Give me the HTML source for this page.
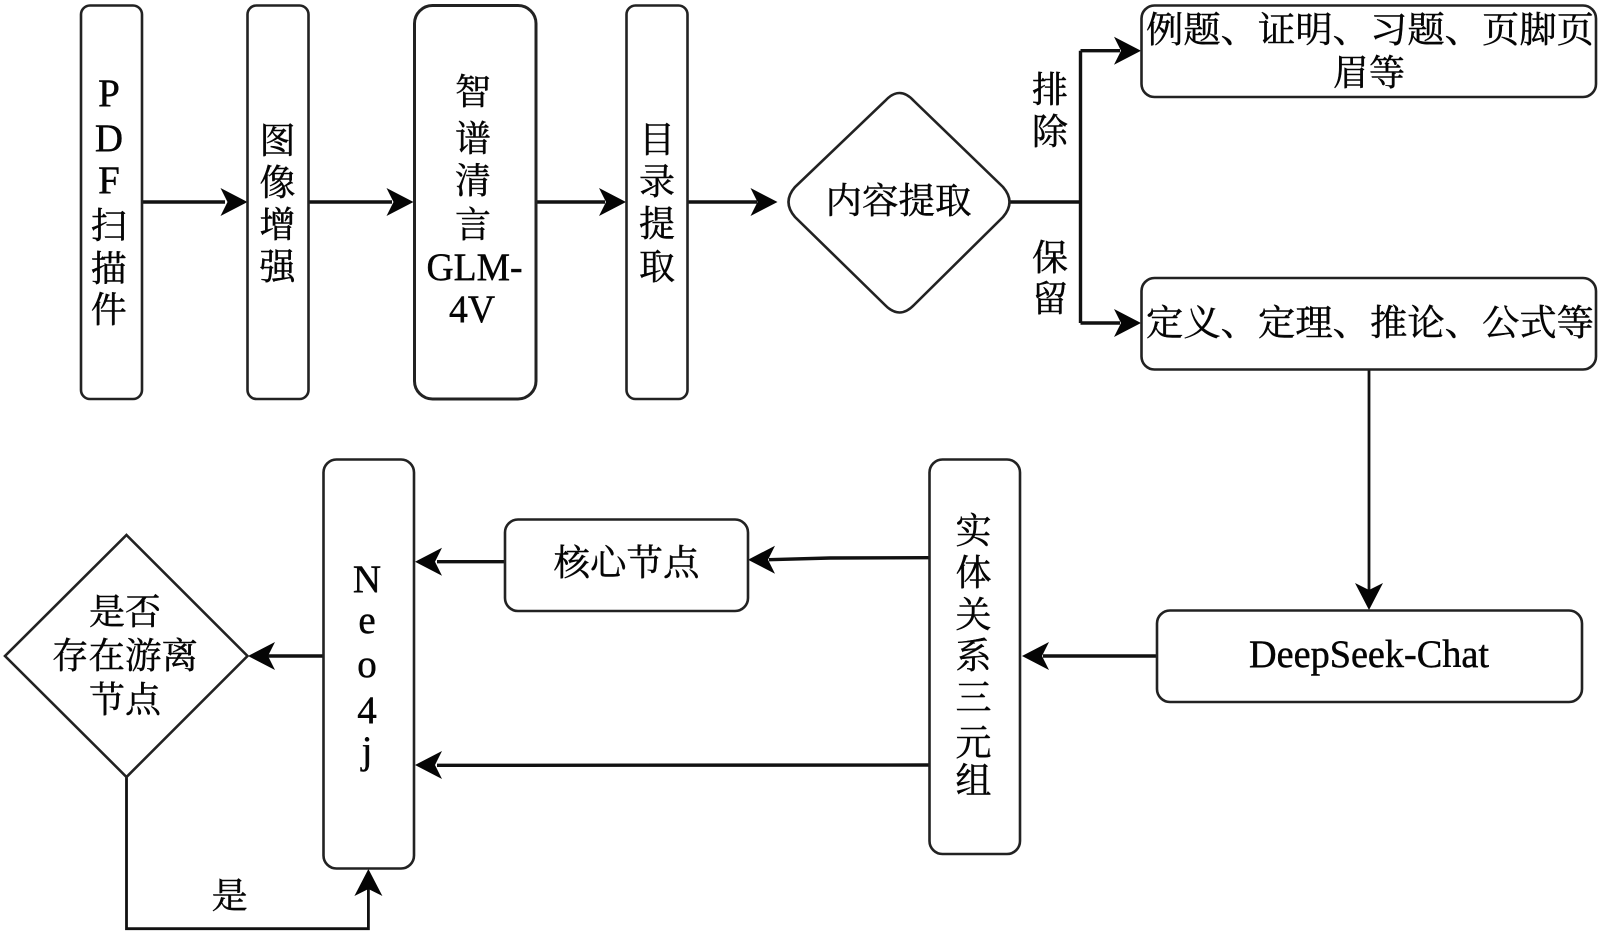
<!DOCTYPE html>
<html><head><meta charset="utf-8"><style>
html,body{margin:0;padding:0;background:#fff}
svg{display:block}
text{fill:#050505;stroke:#050505;stroke-width:.45px}
.c{font-family:"Liberation Serif","Noto Serif CJK SC",serif;font-size:36px;text-anchor:middle}
.la{font-size:39px}
.b{fill:#fff;stroke:#222;stroke-width:2.6}
.l{fill:none;stroke:#111;stroke-width:3.4}
</style></head><body>
<svg width="1600" height="932" viewBox="0 0 1600 932" xmlns="http://www.w3.org/2000/svg">
<defs><polygon id="a" points="0,0 -27,-14 -20,0 -27,14" fill="#050505"/></defs>
<rect width="1600" height="932" fill="#fff"/>

<!-- connectors -->
<path class="l" d="M142 202H225M309 202H392M536 202H605M687 202H757"/>
<path class="l" d="M1010 202H1080.500M1080.500 50.700V323M1080.500 50.700H1120M1080.500 323H1120"/>
<path class="l" d="M1369 369V590" style="stroke-width:2.800"/>
<path class="l" d="M1157 656H1043"/>
<path class="l" d="M930 557.700L830 558L769 559.700"/>
<path class="l" d="M505 561.700H437"/>
<path class="l" d="M930 765L520 765.300H437"/>
<path class="l" d="M323 656H268"/>
<path class="l" d="M126.500 777V928.700H368.400V889" style="stroke-width:2.800"/>

<!-- arrowheads -->
<use href="#a" transform="translate(247.500 202)"/>
<use href="#a" transform="translate(413.500 202)"/>
<use href="#a" transform="translate(626 202)"/>
<use href="#a" transform="translate(777.500 202)"/>
<use href="#a" transform="translate(1141 50.700)"/>
<use href="#a" transform="translate(1141 323)"/>
<use href="#a" transform="translate(1369 610) rotate(90)"/>
<use href="#a" transform="translate(1022 656) rotate(180)"/>
<use href="#a" transform="translate(748 559.700) rotate(180)"/>
<use href="#a" transform="translate(415 561.700) rotate(180)"/>
<use href="#a" transform="translate(415 765) rotate(180)"/>
<use href="#a" transform="translate(248 656) rotate(180)"/>
<use href="#a" transform="translate(368.400 869) rotate(-90)"/>

<!-- nodes -->
<rect class="b" x="81" y="5.500" width="61" height="393.500" rx="9"/>
<rect class="b" x="247.500" y="5.500" width="61" height="393.500" rx="9"/>
<rect class="b" x="414.500" y="5.500" width="121.500" height="393.500" rx="18" style="stroke-width:3"/>
<rect class="b" x="626.500" y="5.500" width="61" height="393.500" rx="9"/>
<path class="b" d="M885 101Q899.500 85 914 101L1003 187Q1016 202 1003 217L914 305Q899.500 320 885 305L795 217Q782 202 795 187Z"/>
<rect class="b" x="1141.500" y="5.500" width="454.500" height="91.500" rx="13"/>
<rect class="b" x="1141.500" y="278" width="454.500" height="91.500" rx="13"/>
<rect class="b" x="1157" y="610.500" width="425" height="91.500" rx="13"/>
<rect class="b" x="929.500" y="459.500" width="90.500" height="394.500" rx="13"/>
<rect class="b" x="505" y="519.500" width="243" height="91.500" rx="13"/>
<rect class="b" x="323.500" y="459.500" width="90.500" height="409" rx="13"/>
<polygon class="b" points="126.500,535 247.500,656 126.500,777 5,656"/>

<!-- labels -->
<g class="c">
<text class="la" x="109" y="106">P</text>
<text class="la" x="109" y="151">D</text>
<text class="la" x="109" y="193">F</text>
<text x="108.700" y="238">扫</text>
<text x="108.700" y="281">描</text>
<text x="108.700" y="322">件</text>

<text x="277.500" y="153">图</text>
<text x="277.500" y="195">像</text>
<text x="277.500" y="237">增</text>
<text x="277.500" y="279">强</text>

<text x="473" y="104">智</text>
<text x="473" y="151">谱</text>
<text x="473" y="193">清</text>
<text x="473" y="237">言</text>
<text class="la" x="474.500" y="280" textLength="96" lengthAdjust="spacingAndGlyphs">GLM-</text>
<text class="la" x="472" y="322" textLength="46" lengthAdjust="spacingAndGlyphs">4V</text>

<text x="657" y="152">目</text>
<text x="657" y="194">录</text>
<text x="657" y="236">提</text>
<text x="657" y="279">取</text>

<text x="898.500" y="213" textLength="146" lengthAdjust="spacingAndGlyphs">内容提取</text>
<text x="1050" y="102">排</text>
<text x="1050" y="144">除</text>
<text x="1050" y="270">保</text>
<text x="1050" y="311">留</text>

<text x="1370" y="42" textLength="448" lengthAdjust="spacingAndGlyphs">例题、证明、习题、页脚页</text>
<text x="1369" y="85">眉等</text>
<text x="1370" y="335" textLength="448" lengthAdjust="spacingAndGlyphs">定义、定理、推论、公式等</text>
<text class="la" x="1369" y="667" textLength="240" lengthAdjust="spacingAndGlyphs">DeepSeek-Chat</text>

<text x="973.500" y="543">实</text>
<text x="973.500" y="585">体</text>
<text x="973.500" y="627">关</text>
<text x="973.500" y="668">系</text>
<text x="973.500" y="710">三</text>
<text x="973.500" y="755">元</text>
<text x="973.500" y="793">组</text>

<text x="626.500" y="575" textLength="146" lengthAdjust="spacingAndGlyphs">核心节点</text>

<text class="la" x="367" y="592">N</text>
<text class="la" x="367" y="633">e</text>
<text class="la" x="367" y="677">o</text>
<text class="la" x="367" y="723">4</text>
<text class="la" x="367" y="763">j</text>

<text x="125" y="624">是否</text>
<text x="125" y="668" textLength="146" lengthAdjust="spacingAndGlyphs">存在游离</text>
<text x="125" y="712">节点</text>
<text x="229.600" y="908">是</text>
</g>
</svg>
</body></html>
